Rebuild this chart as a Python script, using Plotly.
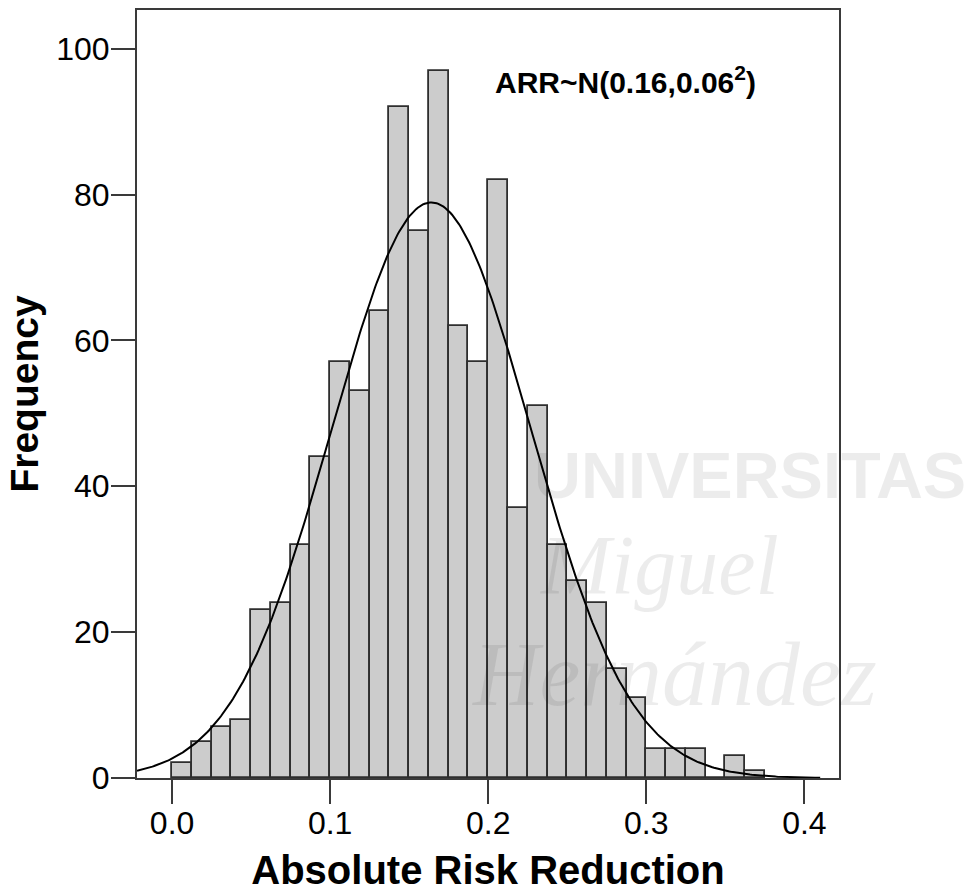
import numpy as np
import plotly.graph_objects as go

# ---- data ----
bin_start = 0.0
bin_width = 0.0125
counts = [2, 5, 7, 8, 23, 24, 32, 44,
          57, 53, 64, 92, 75, 97, 62, 57,
          82, 37, 51, 32, 27, 24, 15, 11,
          4, 4, 4, 0, 3, 1]
fit_mean = 0.164
fit_sd = 0.063
x_ticks = [0.0, 0.1, 0.2, 0.3, 0.4]
y_ticks = [0, 20, 40, 60, 80, 100]
label_text = "ARR~N(0.16,0.06<sup>2</sup>)"
x_title = "Absolute Risk Reduction"
y_title = "Frequency"

# ---- derived ----
centers = [bin_start + (i + 0.5) * bin_width for i in range(len(counts))]
n_total = sum(counts)
xc = np.linspace(-0.0222, 0.41, 400)
yc = n_total * bin_width / (fit_sd * np.sqrt(2 * np.pi)) * np.exp(-0.5 * ((xc - fit_mean) / fit_sd) ** 2)

FONT = "Liberation Sans, Arial, sans-serif"
EDGE = "#2e2e2e"

fig = go.Figure()
fig.add_trace(go.Bar(
    x=centers, y=counts, width=bin_width,
    marker=dict(color="#cccccc", line=dict(color=EDGE, width=1.8)),
    showlegend=False, hoverinfo="x+y",
))
fig.add_trace(go.Scatter(
    x=xc, y=yc, mode="lines",
    line=dict(color="black", width=2),
    showlegend=False,
))

axis_common = dict(
    showline=True, linecolor="#3a3a3a", linewidth=2, mirror=True,
    ticks="outside", ticklen=24, tickwidth=2, tickcolor="#3a3a3a",
    showgrid=False, zeroline=False, automargin=False,
    tickfont=dict(family=FONT, size=32, color="black"),
)

fig.update_layout(
    width=980, height=894,
    margin=dict(l=137, r=141, t=10, b=116, pad=0),
    paper_bgcolor="white", plot_bgcolor="white",
    bargap=0,
    xaxis=dict(range=[-0.0222, 0.4219], tickvals=x_ticks,
               ticktext=[f"{v:.1f}" for v in x_ticks],
               ticklabelstandoff=-8,
               title=dict(text=x_title, font=dict(family=FONT, size=40, color="black", weight="bold"), standoff=16),
               **axis_common),
    yaxis=dict(range=[0, 105.3], tickvals=y_ticks,
               title=dict(text=y_title, font=dict(family=FONT, size=39, color="black", weight="bold"), standoff=6),
               ticklabelstandoff=-5,
               **axis_common),
    font=dict(family=FONT),
)

fig.add_annotation(
    xref="paper", yref="paper", x=0.5068, y=0.909,
    xanchor="left", yanchor="middle", showarrow=False,
    text=label_text, font=dict(family=FONT, size=30, color="black", weight="bold"),
)

# faint repository watermark
wm = "rgba(0,0,0,0.075)"
fig.add_annotation(xref="paper", yref="paper", x=(532 - 137) / 702, y=(778 - 475) / 768,
                   xanchor="left", yanchor="middle", showarrow=False, text="UNIVERSITAS",
                   font=dict(family=FONT, size=65, color=wm, weight="bold"))
fig.add_annotation(xref="paper", yref="paper", x=(538 - 137) / 702, y=(778 - 565) / 768,
                   xanchor="left", yanchor="middle", showarrow=False, text="Miguel",
                   font=dict(family="Liberation Serif, serif", size=84, color=wm, style="italic"))
fig.add_annotation(xref="paper", yref="paper", x=(470 - 137) / 702, y=(778 - 674) / 768,
                   xanchor="left", yanchor="middle", showarrow=False, text="Hernández",
                   font=dict(family="Liberation Serif, serif", size=92, color=wm, style="italic"))

fig.write_html("out.html")
